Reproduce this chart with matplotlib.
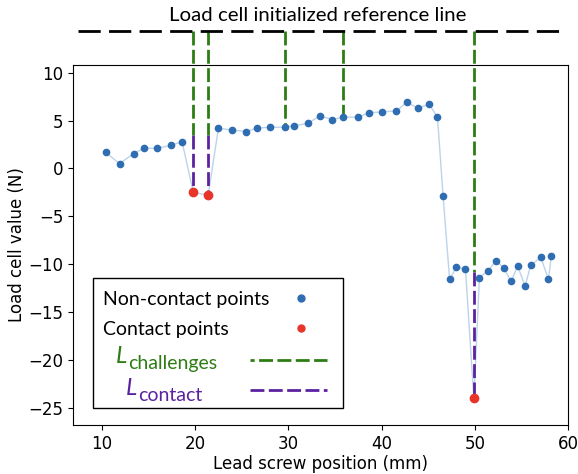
import matplotlib
matplotlib.use("Agg")
import matplotlib.pyplot as plt
from matplotlib.lines import Line2D
from matplotlib.patches import Rectangle

# lead screw position (mm) and load cell reading (N), in scan order
position = [10.4, 11.9, 13.4, 14.5, 15.9, 17.4, 18.6, 19.8, 21.4, 22.5, 24.0, 25.5,
            26.6, 28.0, 29.6, 30.6, 32.1, 33.4, 34.7, 35.9, 37.5, 38.6, 40.0, 41.6,
            42.7, 43.9, 45.1, 46.0, 46.6, 47.3, 48.0, 49.0, 49.9, 50.5, 51.4, 52.3,
            53.1, 53.9, 54.6, 55.4, 56.0, 57.1, 57.9, 58.2]
load = [1.67, 0.5, 1.55, 2.1, 2.1, 2.4, 2.8, -2.5, -2.8, 4.2, 4.0, 3.85,
        4.2, 4.3, 4.3, 4.45, 4.7, 5.5, 5.1, 5.35, 5.35, 5.8, 5.9, 6.0,
        6.9, 6.3, 6.7, 5.35, -2.9, -11.6, -10.35, -10.5, -24.0, -11.4, -10.7, -9.65,
        -10.4, -11.8, -10.2, -12.3, -10.1, -9.3, -11.6, -9.2]

contact_x = [19.8, 21.4, 49.9]
contact_y = [-2.5, -2.8, -24.0]
contact_base = [3.5, 3.5, -10.8]      # where L_challenges meets L_contact

# challenge lines that stop at a non-contact point
challenge_x = [29.6, 35.9]
challenge_y = [4.3, 5.35]

REF_LEVEL = 14.3   # load cell initialized reference line (above the axes)
REF_SPAN = [7.4, 59.3]
GREEN = "#2d7d14"
PURPLE = "#5b22a0"
BLUE = "#2f6db2"
RED = "#e8352a"
W, H = 578, 474

fig = plt.figure(figsize=(W / 100, H / 100), dpi=100)
ax = fig.add_axes([0.1263, 0.1034, 0.8564, 0.7595])

ax.plot(position, load, color="#bcd3ea", lw=1.0, zorder=2)
ax.plot(position, load, "o", color=BLUE, ms=4.5, ls="none", zorder=4)
ax.plot(contact_x, contact_y, "o", color=RED, ms=6, ls="none", zorder=5)

dash = (5.0, 1.6)
for x, base in zip(contact_x, contact_base):
    ax.plot([x, x], [REF_LEVEL, base], color=GREEN, lw=2, dashes=dash,
            clip_on=False, zorder=3)
for x, y, base in zip(contact_x, contact_y, contact_base):
    ax.plot([x, x], [base, y], color=PURPLE, lw=2, dashes=dash,
            clip_on=False, zorder=3)
for x, y in zip(challenge_x, challenge_y):
    ax.plot([x, x], [REF_LEVEL, y], color=GREEN, lw=2, dashes=dash,
            clip_on=False, zorder=3)

ax.plot(REF_SPAN, [REF_LEVEL, REF_LEVEL], color="black", lw=2,
        dashes=(8, 3), clip_on=False, zorder=3)
fig.text(0.55, 0.968, "Load cell initialized reference line", ha="center",
         va="center", fontsize=14.7, family="Lato")

ax.set_xlim(6.9, 60)
ax.set_ylim(-26.8, 10.8)
ax.set_xticks([10, 20, 30, 40, 50, 60])
ax.set_yticks([10, 5, 0, -5, -10, -15, -20, -25])
ax.tick_params(labelsize=12)
ax.set_xlabel("Lead screw position (mm)", fontsize=12, labelpad=2)
ax.set_ylabel("Load cell value (N)", fontsize=12, labelpad=2)


# hand-built legend (text left-aligned, handles on the right), pixel layout
def fx(px):
    return px / W


def fy(py):
    return 1 - py / H


fig.patches.append(Rectangle((fx(93), fy(408)), fx(343) - fx(93), fy(278) - fy(408),
                             transform=fig.transFigure, fill=True, facecolor="white",
                             edgecolor="black", lw=1.0, zorder=6))
for label, py in [("Non-contact points", 298), ("Contact points", 328)]:
    fig.text(fx(103), fy(py), label, fontsize=14, family="Lato",
             ha="left", va="center_baseline", zorder=7)

# italic L with a near full-size subscript, placed right after the L
renderer = fig.canvas.get_renderer()
for sub, col, lx, base in [("challenges", GREEN, 116, 363),
                           ("contact", PURPLE, 126, 395)]:
    L = fig.text(fx(lx), fy(base), "L", color=col, fontsize=17, family="Lato",
                 style="italic", ha="left", va="baseline", zorder=7)
    x1 = L.get_window_extent(renderer).x1
    fig.text(x1 / W + fx(1), fy(base + 6), sub, color=col, fontsize=14,
             family="Lato", ha="left", va="baseline", zorder=7)

fig.add_artist(Line2D([fx(301)], [fy(298)], marker="o", color=BLUE, ms=5,
                      ls="none", transform=fig.transFigure, zorder=7))
fig.add_artist(Line2D([fx(301)], [fy(328)], marker="o", color=RED, ms=5,
                      ls="none", transform=fig.transFigure, zorder=7))
fig.add_artist(Line2D([fx(250), fx(327)], [fy(360), fy(360)], color=GREEN, lw=2,
                      ls=(3.5, (5.0, 1.6)), transform=fig.transFigure, zorder=7))
fig.add_artist(Line2D([fx(250), fx(327)], [fy(390), fy(390)], color=PURPLE, lw=2,
                      ls=(0, (5.0, 1.6)), transform=fig.transFigure, zorder=7))

fig.savefig("out.png", dpi=100)
